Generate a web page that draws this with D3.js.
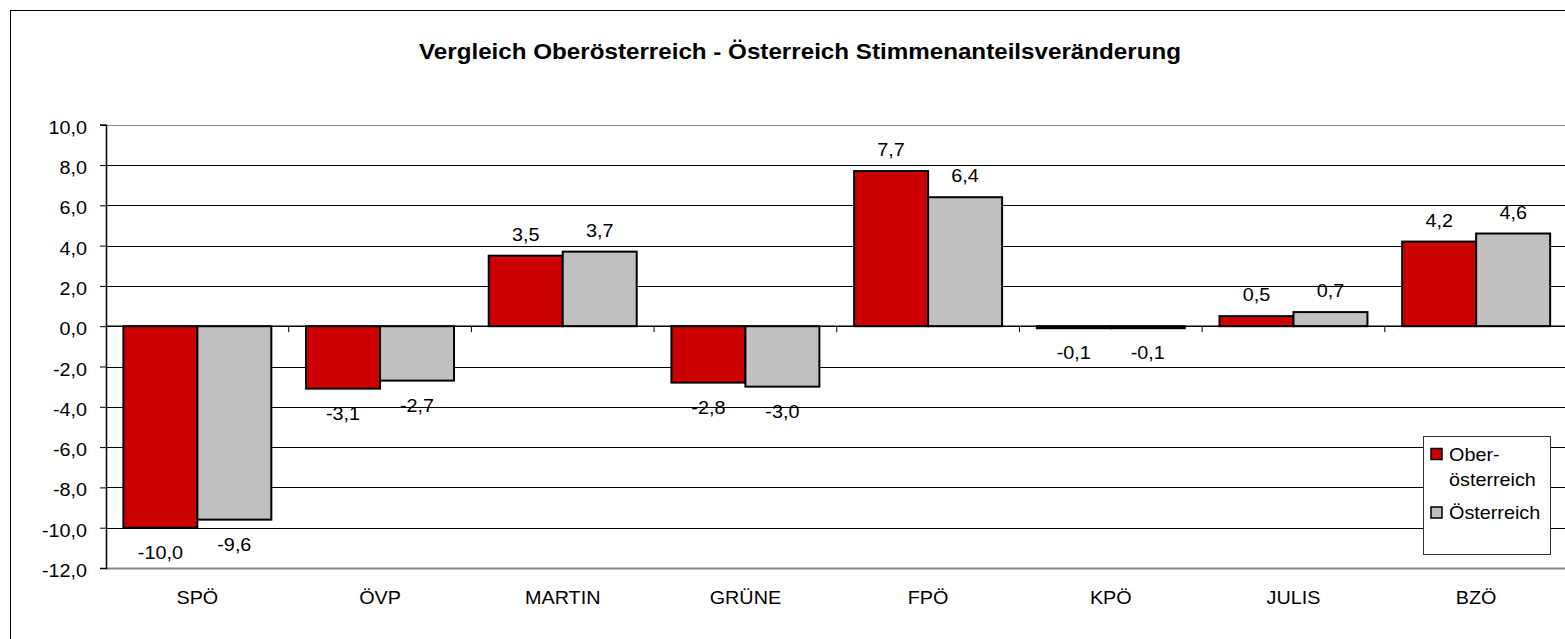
<!DOCTYPE html>
<html><head><meta charset="utf-8">
<script src="https://cdn.jsdelivr.net/npm/d3@7"></script>
<style>body{margin:0;background:#fff}svg{display:block;font-family:"Liberation Sans",Arial,sans-serif}</style>
</head><body>
<svg id="c" width="1565" height="639"></svg>
<script>
const categories = ["SPÖ","ÖVP","MARTIN","GRÜNE","FPÖ","KPÖ","JULIS","BZÖ"];
const seriesNames = ["Ober-österreich","Österreich"];
const ooeValues = [-10.0,-3.1,3.5,-2.8,7.7,-0.1,0.5,4.2];
const oeValues = [-9.6,-2.7,3.7,-3.0,6.4,-0.1,0.7,4.6];
const yTicks = [-12,-10,-8,-6,-4,-2,0,2,4,6,8,10];
const colors = ["#CC0000","#C0C0C0"];
const title = "Vergleich Oberösterreich - Österreich Stimmenanteilsveränderung";

const SX = 1.1;
const svg = d3.select("#c");
const L=106, R=1567.5, T=124.7, B=568;
const y = d3.scaleLinear().domain([-12,10]).range([B,T]);
const x0 = d3.scaleBand().domain(categories).range([L,R]);
const bw = x0.bandwidth();
const x1 = d3.scaleBand().domain(seriesNames).range([0.095*bw,0.905*bw]);
const fmt = v => d3.format(".1f")(v).replace(".",",").replace("−","-");

function txt(parent, x, yy, s, size, anchor, bold){
  return parent.append("text")
    .attr("transform",`translate(${x},${yy}) scale(${SX},1)`)
    .attr("text-anchor",anchor||"middle")
    .attr("font-size",size)
    .attr("font-weight",bold?"bold":"normal")
    .attr("fill","#000")
    .text(s);
}

// outer frame
svg.append("rect").attr("x",10.5).attr("y",10.5).attr("width",1600).attr("height",700)
  .attr("fill","none").attr("stroke","#000").attr("stroke-width",1);

// title
txt(svg, 800, 59, title, 22, "middle", true);

// gridlines
svg.append("g").selectAll("line").data(yTicks).join("line")
  .attr("x1",L).attr("x2",R).attr("y1",d=>Math.round(y(d))+0.5).attr("y2",d=>Math.round(y(d))+0.5)
  .attr("stroke",d=>(d===10||d===-12)?"#888":"#000")
  .attr("stroke-width",d=>(d===-12)?2:1);

// y axis
const ya = svg.append("g").attr("transform",`translate(${L},0)`)
  .call(d3.axisLeft(y).tickValues(yTicks).tickFormat("").tickSize(6));
ya.select(".domain").attr("stroke","#000").attr("stroke-width",1.5);
ya.selectAll(".tick line").attr("stroke","#000");
const yl = svg.append("g");
yTicks.forEach(t=>txt(yl, 87, y(t)+9, fmt(t), 18, "end"));

// bars
const data = categories.map((c,i)=>({c, vals:[ooeValues[i],oeValues[i]]}));
const g = svg.append("g");
data.forEach(d=>{
  d.vals.forEach((v,j)=>{
    const s = seriesNames[j];
    const xx = x0(d.c)+x1(s);
    const y0 = y(0), yv = y(v);
    g.append("rect").attr("x",xx).attr("width",x1.bandwidth())
      .attr("y",Math.min(y0,yv)).attr("height",Math.max(Math.abs(yv-y0),0.5))
      .attr("fill",colors[j]).attr("stroke","#000").attr("stroke-width",2);
    txt(g, xx+x1.bandwidth()/2, v>=0 ? yv-15 : yv+31, fmt(v), 18, "middle");
  });
});

// category axis at zero
const xa = svg.append("g").attr("transform",`translate(0,${y(0)})`);
xa.append("line").attr("x1",L).attr("x2",R).attr("stroke","#000").attr("stroke-width",1.5);
xa.selectAll(".tk").data(categories.slice(1)).join("line").attr("class","tk")
  .attr("x1",d=>x0(d)).attr("x2",d=>x0(d)).attr("y1",0).attr("y2",6).attr("stroke","#000");

// category labels
const cl = svg.append("g");
categories.forEach(c=>txt(cl, x0(c)+bw/2, 604, c, 18, "middle"));

// legend
const lg = svg.append("g");
lg.append("rect").attr("x",1423.5).attr("y",436.5).attr("width",127).attr("height",118)
  .attr("fill","#fff").attr("stroke","#333").attr("stroke-width",1);
const legRows = [{lines:["Ober-","österreich"],y:460.5,c:colors[0]},{lines:["Österreich"],y:519,c:colors[1]}];
legRows.forEach(r=>{
  lg.append("rect").attr("x",1431).attr("y",r.y-12).attr("width",11).attr("height",11)
    .attr("fill",r.c).attr("stroke","#000").attr("stroke-width",1.5);
  r.lines.forEach((t,k)=>txt(lg, 1449, r.y+k*25, t, 18, "start"));
});
</script>
</body></html>
